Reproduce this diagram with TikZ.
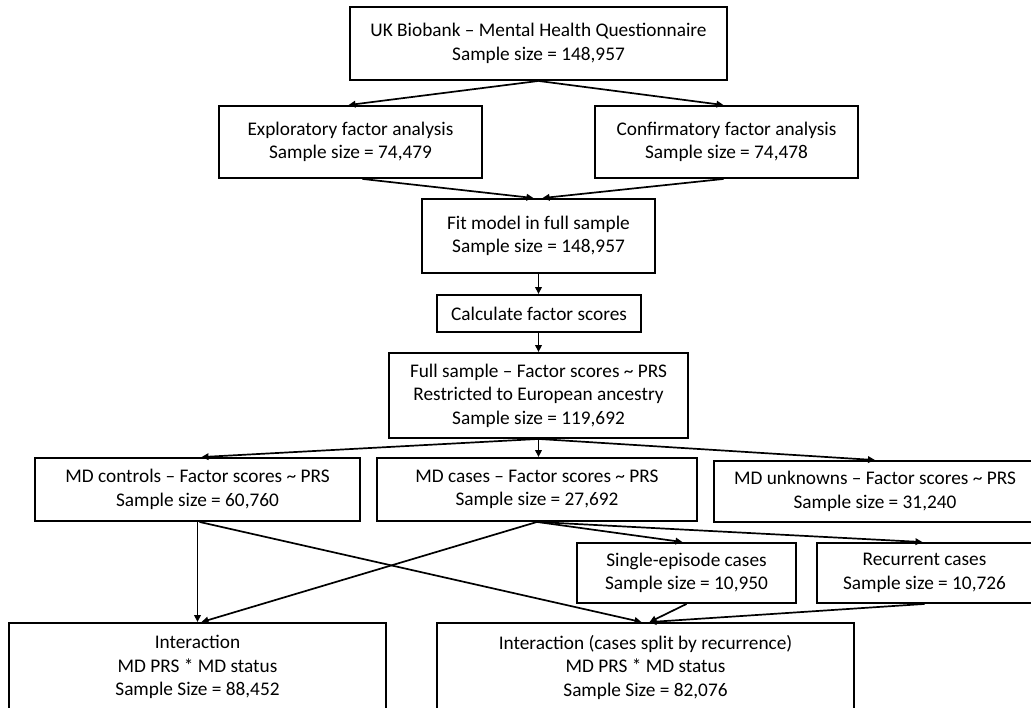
\documentclass[tikz,border=0pt]{standalone}
\usepackage{fontspec}
\setmainfont{Carlito}
\usetikzlibrary{arrows.meta}
\newcommand*{\rowa}{43.5}
\newcommand*{\rowb}{142}
\newcommand*{\rowc}{236}
\newcommand*{\rowd}{313.5}
\newcommand*{\rowe}{395.5}
\newcommand*{\rowf}{489.5}
\newcommand*{\rowg}{573}
\newcommand*{\rowh}{667}
\newcommand*{\colm}{538.5}

\begin{document}
\begin{tikzpicture}[x=1pt, y=-1pt, font=\fontsize{19.3}{23.5}\selectfont,
    box/.style={draw, line width=1.9pt, align=center, inner sep=0pt},
    flow/.style={line width=1.7pt, -{Triangle[length=7pt,width=6.5pt]}}]
        \useasboundingbox (0,0) rectangle (1031,708);
        \node [box, minimum width=377, minimum height=73] (ukb)    at (\colm, \rowa) {UK Biobank -- Mental Health Questionnaire\\Sample size = 148,957};
        \node [box, minimum width=263, minimum height=72] (efa)    at (350.5, \rowb) {Exploratory factor analysis\\Sample size = 74,479};
        \node [box, minimum width=263, minimum height=72] (cfa)    at (726.5, \rowb) {Confirmatory factor analysis\\Sample size = 74,478};
        \node [box, minimum width=233, minimum height=74] (fit)    at (\colm, \rowc) {Fit model in full sample\\Sample size = 148,957};
        \node [box, minimum width=204, minimum height=37] (calc)   at (539  , \rowd) {Calculate factor scores};
        \node [box, minimum width=299, minimum height=85] (full)   at (\colm, \rowe) {Full sample -- Factor scores \textasciitilde{} PRS\\Restricted to European ancestry\\Sample size = 119,692};
        \node [box, minimum width=325, minimum height=63] (ctrl)   at (197.5, \rowf) {MD controls -- Factor scores \textasciitilde{} PRS\\Sample size = 60,760};
        \node [box, minimum width=320, minimum height=63] (cases)  at (537  , \rowf) {MD cases -- Factor scores \textasciitilde{} PRS\\Sample size = 27,692};
        \node [box, minimum width=322, minimum height=61] (unk)    at (875  , 491.5) {MD unknowns -- Factor scores \textasciitilde{} PRS\\Sample size = 31,240};
        \node [box, minimum width=219, minimum height=60] (single) at (686.5, \rowg) {Single-episode cases\\Sample size = 10,950};
        \node [box, minimum width=215, minimum height=60] (recur)  at (924.5, \rowg) {Recurrent cases\\Sample size = 10,726};
        \node [box, minimum width=377, minimum height=88] (inter)  at (197.5, \rowh) {Interaction\\MD PRS * MD status\\Sample Size = 88,452};
        \node [box, minimum width=417, minimum height=88] (split)  at (645.5, \rowh) {Interaction (cases split by recurrence)\\MD PRS * MD status\\Sample Size = 82,076};
        % top half
        \draw [flow] (ukb.south) -- ([xshift=-2pt]efa.north);
        \draw [flow] (ukb.south) -- ([xshift=-3pt]cfa.north);
        \draw [flow] ([xshift=12pt]efa.south) -- ([xshift=-5pt]fit.north);
        \draw [flow] ([xshift=-3pt]cfa.south) -- ([xshift=4pt]fit.north);
        \draw [flow] (fit.south) -- (fit.south |- calc.north);
        \draw [flow] (fit.south |- calc.south) -- (fit.south |- full.north);
        % bottom half
        \draw [flow] (full.south) -- ([xshift=4pt]ctrl.north);
        \draw [flow] (full.south) -- (full.south |- cases.north);
        \draw [flow] (full.south) -- (unk.north);
        \draw [flow] (ctrl.south) -- (ctrl.south |- inter.north);
        \draw [flow] ([xshift=2pt]ctrl.south) -- ([xshift=-4pt]split.north);
        \draw [flow] (cases.south) -- ([xshift=4pt]inter.north);
        \draw [flow] (cases.south) -- ([xshift=-4pt]single.north);
        \draw [flow] (cases.south) -- ([xshift=-2pt]recur.north);
        \draw [flow] (single.south) -- ([xshift=4pt]split.north);
        \draw [flow] (recur.south) -- ([xshift=4pt]split.north);
    \end{tikzpicture}
\end{document}
